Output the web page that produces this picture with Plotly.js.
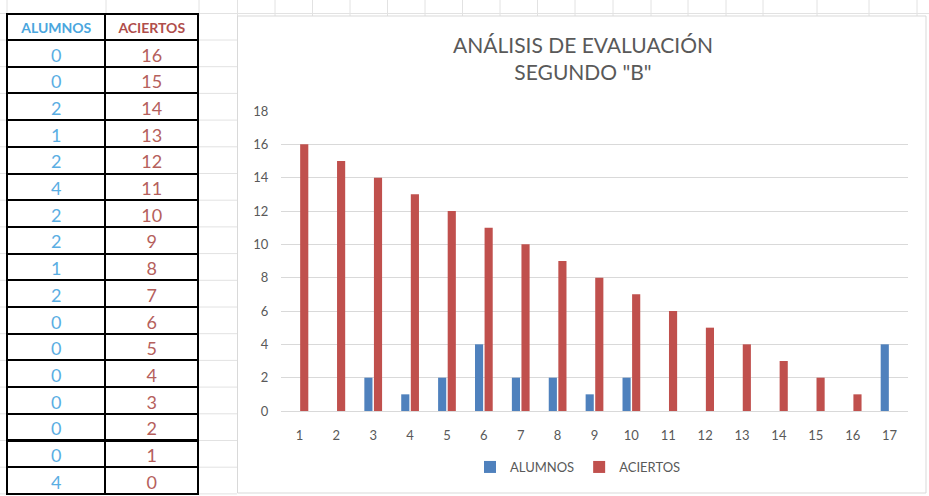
<!DOCTYPE html>
<html>
<head>
<meta charset="utf-8">
<script src="https://cdn.plot.ly/plotly-3.0.1.min.js"></script>
<style>
  html, body { margin: 0; padding: 0; background: #ffffff; }
  #chart { width: 929px; height: 496px; }
</style>
</head>
<body>
<div id="chart"></div>
<script>
// ---- data ----
const categories = [1, 2, 3, 4, 5, 6, 7, 8, 9, 10, 11, 12, 13, 14, 15, 16, 17];
const alumnos = [0, 0, 2, 1, 2, 4, 2, 2, 1, 2, 0, 0, 0, 0, 0, 0, 4];
const aciertos = [16, 15, 14, 13, 12, 11, 10, 9, 8, 7, 6, 5, 4, 3, 2, 1, 0];
const seriesNames = ['ALUMNOS', 'ACIERTOS'];
const yTicks = [0, 2, 4, 6, 8, 10, 12, 14, 16, 18];
const chartTitle = 'ANÁLISIS DE EVALUACIÓN<br>SEGUNDO "B"';

// ---- helpers (pixel -> paper) ----
const W = 929, H = 496;
const px = x => x / W;
const py = y => 1 - y / H;

const FONT = 'Lato, Carlito, Calibri, "Open Sans", sans-serif';
const GRAY = '#595959';
const BLUE = '#4F81BD';
const RED = '#C0504D';
const SHEET = '#e2e2e2';

// spreadsheet background lines
const shapes = [];
const rowLines = [13.5];
for (let k = 0; k <= 17; k++) rowLines.push(40 + 26.7 * k);
rowLines.forEach(y => {
  shapes.push({type: 'line', xref: 'paper', yref: 'paper', x0: 0, x1: px(237), y0: py(y), y1: py(y),
               line: {color: SHEET, width: 1}, layer: 'below'});
});
shapes.push({type: 'line', xref: 'paper', yref: 'paper', x0: px(237), x1: 1, y0: py(13.5), y1: py(13.5),
             line: {color: SHEET, width: 1}, layer: 'below'});
const colLines = [7, 106, 199, 237.5, 275, 312.5, 350, 387.5, 425, 462.5, 500, 537.5, 575, 613, 651, 688, 726, 763, 817, 869, 917];
colLines.forEach(x => {
  shapes.push({type: 'line', xref: 'paper', yref: 'paper', x0: px(x), x1: px(x), y0: py(0), y1: py(16),
               line: {color: SHEET, width: 1}, layer: 'below'});
});
// chart box
shapes.push({type: 'rect', xref: 'paper', yref: 'paper', x0: px(237.5), x1: px(926), y0: py(16), y1: py(493),
             fillcolor: '#ffffff', line: {color: '#d9d9d9', width: 1}, layer: 'below'});

const traces = [
  {
    type: 'bar', name: seriesNames[0], x: categories, y: alumnos,
    marker: {color: BLUE}, hoverinfo: 'skip', xaxis: 'x', yaxis: 'y'
  },
  {
    type: 'bar', name: seriesNames[1], x: categories, y: aciertos,
    marker: {color: RED}, hoverinfo: 'skip', xaxis: 'x', yaxis: 'y'
  },
  {
    type: 'table',
    domain: {x: [px(7), px(199)], y: [0, py(14)]},
    columnwidth: [99, 93],
    header: {
      values: [seriesNames[0], seriesNames[1]],
      align: 'center',
      height: 26,
      fill: {color: '#ffffff'},
      line: {color: '#000000', width: 2},
      font: {family: FONT, size: 14, weight: 'bold', color: ['#4aa6de', '#b04e4b']}
    },
    cells: {
      values: [alumnos, aciertos],
      align: 'center',
      height: 26.7,
      fill: {color: '#ffffff'},
      line: {color: '#000000', width: 2},
      font: {family: FONT, size: 18, color: ['#5aaee3', '#b5605c']}
    },
    showlegend: false
  }
];

const layout = {
  width: W, height: H,
  margin: {l: 0, r: 0, t: 0, b: 0, pad: 0},
  paper_bgcolor: '#ffffff',
  plot_bgcolor: 'rgba(0,0,0,0)',
  font: {family: FONT, color: GRAY},
  title: {
    text: chartTitle,
    x: px(583), xanchor: 'center', xref: 'paper',
    y: py(53), yanchor: 'top', yref: 'container',
    font: {family: FONT, size: 21, color: GRAY}
  },
  barmode: 'group',
  bargap: 0.48,
  bargroupgap: 0.15,
  showlegend: true,
  legend: {
    orientation: 'h', x: px(578), xanchor: 'center', y: py(467), yanchor: 'middle',
    font: {family: FONT, size: 13, color: GRAY},
    bgcolor: 'rgba(0,0,0,0)', itemwidth: 30, traceorder: 'normal'
  },
  xaxis: {
    domain: [px(281), px(908)],
    range: [0.5, 17.5],
    tickmode: 'array', tickvals: categories, ticktext: categories.map(String),
    showgrid: false, zeroline: false, showline: false,
    ticks: 'outside', ticklen: 12, tickcolor: 'rgba(0,0,0,0)',
    tickfont: {family: FONT, size: 13, color: GRAY},
    fixedrange: true
  },
  yaxis: {
    domain: [py(411), py(111)],
    range: [0, 18],
    tickmode: 'array', tickvals: yTicks,
    showgrid: true, gridcolor: '#d9d9d9', gridwidth: 1,
    zeroline: true, zerolinecolor: '#d9d9d9', zerolinewidth: 1,
    showline: false,
    ticks: 'outside', ticklen: 9, tickcolor: 'rgba(0,0,0,0)',
    tickfont: {family: FONT, size: 13, color: GRAY},
    fixedrange: true
  },
  shapes: shapes
};

Plotly.newPlot('chart', traces, layout, {staticPlot: true, displayModeBar: false});
</script>
</body>
</html>
